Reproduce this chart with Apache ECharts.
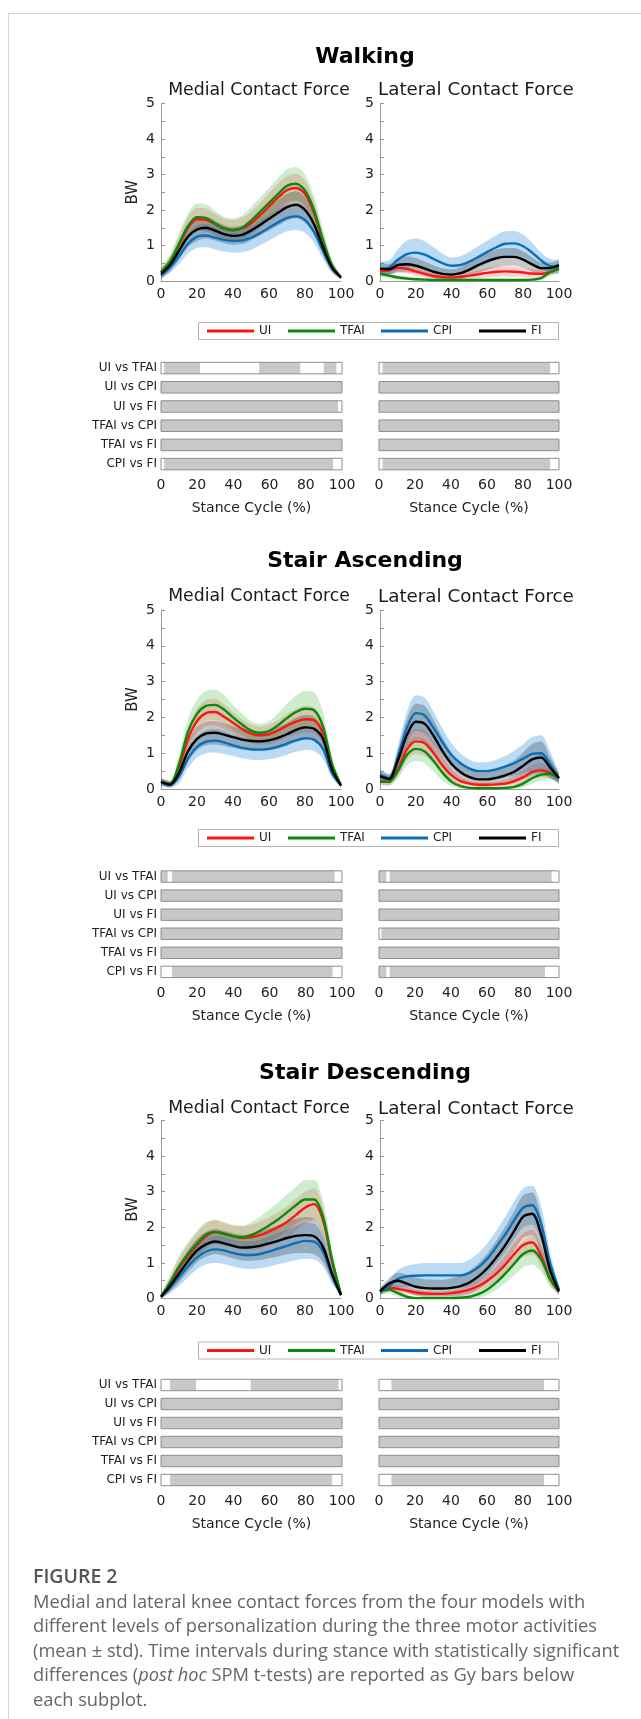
<!DOCTYPE html>
<html>
<head>
<meta charset="utf-8">
<script src="https://cdn.jsdelivr.net/npm/echarts@6/dist/echarts.min.js"></script>
<style>
  html, body { margin: 0; padding: 0; background: #ffffff; }
  #chart { width: 641px; height: 1719px; }
</style>
</head>
<body>
<div id="chart"></div>
<script>
// ---- Categories and tick labels ----
const stance = ['0','5','10','15','20','25','30','35','40','45','50','55','60','65','70','75','80','85','90','95','100'];
const models = ['UI', 'TFAI', 'CPI', 'FI'];
const comparisons = ['UI vs TFAI', 'UI vs CPI', 'UI vs FI', 'TFAI vs CPI', 'TFAI vs FI', 'CPI vs FI'];
const activities = ['Walking', 'Stair Ascending', 'Stair Descending'];
const sides = ['Medial Contact Force', 'Lateral Contact Force'];

// ---- Walking, medial compartment (BW): mean and std ----
const walkMedUI   = [0.25,0.52,1.00,1.50,1.74,1.72,1.60,1.48,1.44,1.48,1.62,1.85,2.10,2.35,2.56,2.62,2.45,1.92,1.10,0.42,0.10];
const walkMedTFAI = [0.25,0.55,1.05,1.55,1.80,1.78,1.62,1.48,1.43,1.50,1.70,1.95,2.20,2.45,2.68,2.74,2.55,2.00,1.15,0.45,0.10];
const walkMedCPI  = [0.15,0.38,0.70,1.05,1.25,1.28,1.22,1.16,1.13,1.14,1.22,1.35,1.50,1.65,1.78,1.82,1.72,1.38,0.85,0.35,0.10];
const walkMedFI   = [0.20,0.45,0.85,1.25,1.45,1.50,1.42,1.32,1.27,1.30,1.42,1.58,1.75,1.92,2.08,2.15,2.00,1.60,0.95,0.38,0.10];
const walkMedUIsd   = [0.12,0.18,0.25,0.30,0.32,0.32,0.30,0.28,0.28,0.30,0.33,0.35,0.38,0.40,0.40,0.40,0.38,0.33,0.25,0.12,0.05];
const walkMedTFAIsd = [0.15,0.20,0.30,0.35,0.38,0.38,0.35,0.33,0.33,0.35,0.38,0.40,0.42,0.45,0.47,0.47,0.45,0.40,0.30,0.15,0.05];
const walkMedCPIsd  = [0.10,0.15,0.22,0.28,0.32,0.33,0.33,0.33,0.33,0.33,0.34,0.35,0.36,0.37,0.38,0.38,0.36,0.30,0.22,0.12,0.05];
const walkMedFIsd   = [0.12,0.18,0.25,0.30,0.32,0.30,0.28,0.26,0.25,0.26,0.28,0.30,0.33,0.36,0.38,0.38,0.36,0.30,0.22,0.12,0.05];

// ---- Walking, lateral compartment ----
const walkLatUI   = [0.28,0.30,0.37,0.34,0.27,0.20,0.14,0.11,0.10,0.12,0.15,0.19,0.23,0.26,0.27,0.26,0.24,0.21,0.20,0.25,0.35];
const walkLatTFAI = [0.20,0.15,0.10,0.07,0.05,0.04,0.03,0.03,0.03,0.03,0.03,0.03,0.03,0.03,0.03,0.03,0.03,0.04,0.08,0.25,0.35];
const walkLatCPI  = [0.35,0.38,0.60,0.76,0.80,0.74,0.62,0.50,0.43,0.45,0.55,0.68,0.82,0.95,1.05,1.06,0.98,0.80,0.58,0.42,0.40];
const walkLatFI   = [0.35,0.33,0.45,0.47,0.43,0.35,0.26,0.20,0.18,0.22,0.32,0.45,0.56,0.64,0.68,0.68,0.60,0.47,0.36,0.37,0.45];
const walkLatUIsd   = [0.10,0.10,0.13,0.13,0.12,0.10,0.08,0.07,0.07,0.08,0.10,0.12,0.14,0.15,0.15,0.15,0.14,0.12,0.10,0.10,0.10];
const walkLatTFAIsd = [0.08,0.07,0.06,0.05,0.04,0.03,0.03,0.03,0.03,0.03,0.03,0.03,0.03,0.03,0.03,0.03,0.03,0.04,0.06,0.10,0.10];
const walkLatCPIsd  = [0.20,0.20,0.30,0.38,0.40,0.38,0.33,0.27,0.23,0.25,0.28,0.30,0.32,0.34,0.35,0.35,0.32,0.28,0.22,0.20,0.20];
const walkLatFIsd   = [0.15,0.15,0.20,0.22,0.22,0.20,0.18,0.16,0.15,0.17,0.20,0.22,0.24,0.25,0.25,0.25,0.23,0.20,0.16,0.15,0.15];

// ---- Stair ascending, medial ----
const ascMedUI   = [0.20,0.15,0.60,1.40,1.90,2.12,2.15,2.02,1.85,1.68,1.55,1.50,1.53,1.63,1.77,1.88,1.95,1.92,1.55,0.60,0.10];
const ascMedTFAI = [0.20,0.15,0.70,1.60,2.10,2.32,2.35,2.22,2.00,1.80,1.63,1.57,1.62,1.78,1.98,2.15,2.24,2.20,1.75,0.70,0.10];
const ascMedCPI  = [0.20,0.12,0.35,0.85,1.18,1.32,1.35,1.30,1.22,1.15,1.11,1.10,1.12,1.18,1.27,1.36,1.42,1.38,1.12,0.45,0.10];
const ascMedFI   = [0.20,0.12,0.45,1.05,1.40,1.55,1.57,1.52,1.45,1.38,1.34,1.33,1.36,1.43,1.53,1.65,1.72,1.68,1.40,0.55,0.10];
const ascMedUIsd   = [0.10,0.08,0.20,0.30,0.35,0.37,0.37,0.35,0.30,0.27,0.25,0.25,0.27,0.30,0.33,0.36,0.37,0.36,0.30,0.15,0.05];
const ascMedTFAIsd = [0.10,0.08,0.25,0.35,0.40,0.42,0.42,0.40,0.35,0.30,0.27,0.25,0.28,0.33,0.40,0.46,0.50,0.50,0.40,0.20,0.05];
const ascMedCPIsd  = [0.10,0.08,0.18,0.26,0.30,0.32,0.33,0.32,0.30,0.29,0.29,0.29,0.29,0.30,0.31,0.32,0.33,0.32,0.28,0.14,0.05];
const ascMedFIsd   = [0.10,0.08,0.18,0.28,0.32,0.33,0.33,0.32,0.30,0.28,0.27,0.27,0.28,0.30,0.32,0.34,0.35,0.34,0.30,0.15,0.05];

// ---- Stair ascending, lateral ----
const ascLatUI   = [0.22,0.20,0.55,1.10,1.33,1.28,1.00,0.65,0.38,0.22,0.15,0.12,0.12,0.13,0.15,0.22,0.33,0.48,0.52,0.45,0.30];
const ascLatTFAI = [0.20,0.20,0.50,0.95,1.12,1.05,0.78,0.45,0.20,0.08,0.03,0.02,0.02,0.02,0.03,0.06,0.15,0.30,0.40,0.42,0.30];
const ascLatCPI  = [0.40,0.30,0.90,1.70,2.12,2.05,1.70,1.30,0.95,0.72,0.57,0.50,0.50,0.55,0.63,0.72,0.85,0.98,1.00,0.70,0.30];
const ascLatFI   = [0.35,0.28,0.80,1.50,1.88,1.82,1.48,1.05,0.70,0.47,0.33,0.27,0.27,0.31,0.38,0.48,0.65,0.83,0.88,0.60,0.30];
const ascLatUIsd   = [0.10,0.10,0.20,0.30,0.35,0.35,0.30,0.25,0.18,0.12,0.08,0.07,0.07,0.08,0.10,0.13,0.17,0.20,0.20,0.15,0.10];
const ascLatTFAIsd = [0.10,0.10,0.20,0.30,0.33,0.33,0.30,0.22,0.12,0.06,0.03,0.02,0.02,0.02,0.03,0.05,0.10,0.15,0.17,0.15,0.10];
const ascLatCPIsd  = [0.15,0.12,0.30,0.45,0.50,0.50,0.45,0.38,0.32,0.27,0.25,0.25,0.25,0.27,0.30,0.35,0.40,0.47,0.50,0.35,0.15];
const ascLatFIsd   = [0.15,0.12,0.30,0.45,0.50,0.50,0.45,0.38,0.30,0.25,0.22,0.20,0.20,0.22,0.27,0.32,0.38,0.43,0.45,0.30,0.15];

// ---- Stair descending, medial ----
const descMedUI   = [0.05,0.40,0.85,1.20,1.50,1.75,1.87,1.82,1.75,1.70,1.72,1.78,1.88,2.00,2.15,2.35,2.55,2.65,2.20,1.05,0.10];
const descMedTFAI = [0.05,0.45,0.90,1.25,1.55,1.80,1.87,1.82,1.75,1.72,1.78,1.90,2.05,2.22,2.42,2.62,2.78,2.78,2.30,1.10,0.10];
const descMedCPI  = [0.05,0.30,0.60,0.90,1.15,1.32,1.38,1.35,1.28,1.23,1.22,1.25,1.32,1.40,1.48,1.56,1.62,1.60,1.32,0.65,0.10];
const descMedFI   = [0.05,0.35,0.70,1.05,1.35,1.52,1.60,1.55,1.48,1.43,1.44,1.48,1.55,1.62,1.70,1.76,1.78,1.75,1.45,0.70,0.10];
const descMedUIsd   = [0.05,0.20,0.28,0.32,0.35,0.35,0.35,0.33,0.32,0.33,0.35,0.38,0.40,0.42,0.44,0.45,0.45,0.45,0.38,0.22,0.05];
const descMedTFAIsd = [0.05,0.20,0.30,0.33,0.35,0.35,0.33,0.30,0.30,0.32,0.35,0.40,0.45,0.48,0.50,0.52,0.55,0.55,0.45,0.25,0.05];
const descMedCPIsd  = [0.05,0.15,0.25,0.30,0.33,0.36,0.38,0.38,0.38,0.38,0.39,0.40,0.42,0.44,0.46,0.48,0.50,0.50,0.42,0.22,0.05];
const descMedFIsd   = [0.05,0.15,0.25,0.30,0.33,0.35,0.35,0.35,0.35,0.36,0.38,0.40,0.42,0.44,0.46,0.48,0.50,0.50,0.42,0.22,0.05];

// ---- Stair descending, lateral ----
const descLatUI   = [0.20,0.30,0.27,0.22,0.17,0.14,0.13,0.13,0.15,0.19,0.25,0.35,0.50,0.70,0.95,1.25,1.50,1.58,1.20,0.55,0.20];
const descLatTFAI = [0.20,0.25,0.15,0.05,0.01,0.01,0.01,0.01,0.01,0.02,0.05,0.12,0.25,0.45,0.70,0.98,1.25,1.35,1.10,0.55,0.20];
const descLatCPI  = [0.20,0.35,0.55,0.62,0.64,0.65,0.65,0.65,0.65,0.65,0.72,0.88,1.12,1.45,1.80,2.20,2.55,2.62,2.10,1.00,0.25];
const descLatFI   = [0.20,0.42,0.50,0.42,0.33,0.29,0.28,0.28,0.30,0.35,0.45,0.62,0.85,1.15,1.50,1.90,2.30,2.38,1.80,0.80,0.20];
const descLatUIsd   = [0.08,0.10,0.10,0.10,0.08,0.07,0.07,0.07,0.08,0.10,0.12,0.15,0.18,0.22,0.26,0.30,0.33,0.35,0.30,0.18,0.08];
const descLatTFAIsd = [0.08,0.10,0.10,0.05,0.02,0.01,0.01,0.01,0.01,0.02,0.05,0.10,0.15,0.20,0.27,0.33,0.38,0.40,0.35,0.20,0.08];
const descLatCPIsd  = [0.10,0.15,0.25,0.30,0.33,0.35,0.35,0.35,0.35,0.35,0.37,0.40,0.43,0.46,0.50,0.53,0.55,0.55,0.50,0.30,0.10];
const descLatFIsd   = [0.10,0.15,0.22,0.25,0.25,0.25,0.25,0.25,0.27,0.30,0.33,0.37,0.42,0.47,0.52,0.56,0.60,0.60,0.50,0.30,0.10];

// ---- Significant stance intervals (%) per comparison, post hoc SPM t-tests ----
const walkMedSig = [[[1.7,21.6],[54.2,76.9],[89.9,96.9]], [[0,100]], [[0,97.8]], [[0,100]], [[0,100]], [[1.7,95]]];
const walkLatSig = [[[2,95]], [[0,100]], [[0,100]], [[0,100]], [[0,100]], [[2,95]]];
const ascMedSig  = [[[0,3.7],[6.1,95.9]], [[0,100]], [[0,100]], [[0,100]], [[0,100]], [[6.1,94.8]]];
const ascLatSig  = [[[0,4.1],[5.9,95.9]], [[0,100]], [[0,100]], [[1.3,100]], [[0,100]], [[0,4.1],[5.9,92.2]]];
const descMedSig = [[[5,19.4],[49.6,98.1]], [[0,100]], [[0,100]], [[0,100]], [[0,100]], [[5,94.4]]];
const descLatSig = [[[6.9,91.7]], [[0,100]], [[0,100]], [[0,100]], [[0,100]], [[6.9,91.7]]];

// ---- Panels in drawing order: activity x (medial, lateral) ----
const panels = [
  { mean: {UI: walkMedUI, TFAI: walkMedTFAI, CPI: walkMedCPI, FI: walkMedFI},
    sd:   {UI: walkMedUIsd, TFAI: walkMedTFAIsd, CPI: walkMedCPIsd, FI: walkMedFIsd}, sig: walkMedSig },
  { mean: {UI: walkLatUI, TFAI: walkLatTFAI, CPI: walkLatCPI, FI: walkLatFI},
    sd:   {UI: walkLatUIsd, TFAI: walkLatTFAIsd, CPI: walkLatCPIsd, FI: walkLatFIsd}, sig: walkLatSig },
  { mean: {UI: ascMedUI, TFAI: ascMedTFAI, CPI: ascMedCPI, FI: ascMedFI},
    sd:   {UI: ascMedUIsd, TFAI: ascMedTFAIsd, CPI: ascMedCPIsd, FI: ascMedFIsd}, sig: ascMedSig },
  { mean: {UI: ascLatUI, TFAI: ascLatTFAI, CPI: ascLatCPI, FI: ascLatFI},
    sd:   {UI: ascLatUIsd, TFAI: ascLatTFAIsd, CPI: ascLatCPIsd, FI: ascLatFIsd}, sig: ascLatSig },
  { mean: {UI: descMedUI, TFAI: descMedTFAI, CPI: descMedCPI, FI: descMedFI},
    sd:   {UI: descMedUIsd, TFAI: descMedTFAIsd, CPI: descMedCPIsd, FI: descMedFIsd}, sig: descMedSig },
  { mean: {UI: descLatUI, TFAI: descLatTFAI, CPI: descLatCPI, FI: descLatFI},
    sd:   {UI: descLatUIsd, TFAI: descLatTFAIsd, CPI: descLatCPIsd, FI: descLatFIsd}, sig: descLatSig }
];

// ---- Styling ----
const FONT = '"DejaVu Sans", sans-serif';
const CAPTION_FONT = '"Open Sans", sans-serif';
const lineColor = { UI: '#ff1414', TFAI: '#0b8a0b', CPI: '#0a6fb8', FI: '#000000' };
const bandColor = { UI: 'rgba(255,40,40,0.20)', TFAI: 'rgba(30,170,30,0.22)', CPI: 'rgba(60,150,220,0.35)', FI: 'rgba(0,0,0,0.22)' };
const AXIS_GREY = '#9a9a9a';

// ---- Layout (px) ----
const lineTop = [103.5, 610, 1120.5];
const lineHeight = [177.5, 179, 178];
const spmTop = [358.5, 867, 1375.5];
const spmRowGap = [19.2, 19.07, 19.0];
const legendMid = [331, 838, 1350.5];          // vertical centre of each legend box
const legendItemLeft = { UI: 207, TFAI: 288, CPI: 381, FI: 479 };
const titleY = [57, 561, 1073];
const subTitleY = [90.6, 597, 1109];

const grid = [], xAxis = [], yAxis = [], series = [], legend = [], graphic = [];

// Line plots (grid 0..5)
panels.forEach((p, i) => {
  const act = Math.floor(i / 2), lateral = i % 2 === 1;
  grid.push({ left: lateral ? 380 : 161, top: lineTop[act], width: lateral ? 179 : 180, height: lineHeight[act] });
  xAxis.push({
    type: 'category', gridIndex: i, data: stance, boundaryGap: false,
    axisLine: { show: true, onZero: false, lineStyle: { color: AXIS_GREY, width: 1 } },
    axisTick: { show: false },
    axisLabel: { interval: 3, fontSize: 14, color: '#222', margin: 6, fontFamily: FONT },
    splitLine: { show: false }
  });
  yAxis.push({
    type: 'value', gridIndex: i, min: 0, max: 5, interval: 1,
    axisLine: { show: true, lineStyle: { color: AXIS_GREY, width: 1 } },
    axisTick: { show: true, inside: true, length: 4, lineStyle: { color: AXIS_GREY } },
    minorTick: { show: true, splitNumber: 2, length: 4, lineStyle: { color: AXIS_GREY } },
    splitLine: { show: false },
    axisLabel: { fontSize: 14, color: '#222', margin: 6, fontFamily: FONT },
    name: lateral ? '' : 'BW', nameLocation: 'middle', nameGap: 20, nameRotate: 90,
    nameTextStyle: { fontSize: 15, color: '#222', fontFamily: FONT }
  });
  // std bands: invisible lower edge + stacked band thickness
  models.forEach(m => {
    const mean = p.mean[m], sd = p.sd[m];
    const key = 'band' + i + m;
    series.push({
      type: 'line', name: m + ' std', xAxisIndex: i, yAxisIndex: i, stack: key, stackStrategy: 'all',
      data: mean.map((v, k) => +(v - sd[k]).toFixed(3)), smooth: 0.3, symbol: 'none', silent: true,
      lineStyle: { width: 0, opacity: 0 }, z: 1
    });
    series.push({
      type: 'line', name: m + ' std', xAxisIndex: i, yAxisIndex: i, stack: key, stackStrategy: 'all',
      data: sd.map(v => +(2 * v).toFixed(3)), smooth: 0.3, symbol: 'none', silent: true,
      lineStyle: { width: 0, opacity: 0 }, areaStyle: { color: bandColor[m], opacity: 1 }, z: 1
    });
  });
  // mean curves
  models.forEach(m => {
    series.push({
      type: 'line', name: m, xAxisIndex: i, yAxisIndex: i, data: p.mean[m],
      smooth: 0.3, symbol: 'none', silent: true,
      itemStyle: { color: lineColor[m] }, lineStyle: { color: lineColor[m], width: 2.4 }, z: 3
    });
  });
});

// SPM significance bars (grid 6..11)
panels.forEach((p, i) => {
  const act = Math.floor(i / 2), lateral = i % 2 === 1;
  const g = 6 + i;
  grid.push({ left: lateral ? 379 : 161, top: spmTop[act], width: lateral ? 180 : 181, height: spmRowGap[act] * 6 });
  xAxis.push({
    type: 'value', gridIndex: g, min: 0, max: 100, interval: 20,
    axisLine: { show: false }, axisTick: { show: false }, splitLine: { show: false },
    axisLabel: { fontSize: 14, color: '#222', margin: 4.5, fontFamily: FONT },
    name: 'Stance Cycle (%)', nameLocation: 'middle', nameGap: 28,
    nameTextStyle: { fontSize: 14, color: '#222', fontFamily: FONT }
  });
  yAxis.push({
    type: 'category', gridIndex: g, data: comparisons, inverse: true,
    axisLine: { show: false }, axisTick: { show: false }, splitLine: { show: false },
    axisLabel: { show: !lateral, fontSize: 12, color: '#222', margin: 4, fontFamily: FONT }
  });
  const filled = [];
  p.sig.forEach((row, r) => row.forEach(iv => filled.push([r, iv[0], iv[1]])));
  const barRect = (params, api, style) => {
    const a = api.coord([api.value(1), api.value(0)]);
    const b = api.coord([api.value(2), api.value(0)]);
    const h = api.size([0, 1])[1] * 0.6;
    return { type: 'rect', shape: { x: a[0], y: a[1] - h / 2, width: b[0] - a[0], height: h }, style: style };
  };
  series.push({
    type: 'custom', name: 'significant', xAxisIndex: g, yAxisIndex: g, silent: true, z: 2,
    encode: { x: [1, 2], y: 0 }, data: filled,
    renderItem: (params, api) => barRect(params, api, { fill: '#c8c8c8' })
  });
  series.push({
    type: 'custom', name: 'frame', xAxisIndex: g, yAxisIndex: g, silent: true, z: 3,
    encode: { x: [1, 2], y: 0 }, data: comparisons.map((c, r) => [r, 0, 100]),
    renderItem: (params, api) => barRect(params, api, { fill: 'none', stroke: '#8e8e8e', lineWidth: 1 })
  });
});

// Legend entries, one row per activity, each entry placed on its own
legendMid.forEach(mid => {
  models.forEach(m => {
    legend.push({
      left: legendItemLeft[m], top: mid - 7, data: [m], selectedMode: false,
      icon: 'rect', itemWidth: 47, itemHeight: 3, itemGap: 0, padding: 0,
      textStyle: { fontSize: 12, color: '#222', fontFamily: FONT, lineHeight: 14 }
    });
  });
  // legend frame
  graphic.push({
    type: 'rect', silent: true, z: -5,
    shape: { x: 198.5, y: mid - 8.5, width: 360, height: 17 },
    style: { fill: '#fff', stroke: '#b4b4b4', lineWidth: 1 }
  });
});

// Page frame
graphic.push({
  type: 'rect', silent: true, z: -10,
  shape: { x: 8.5, y: 13.5, width: 700, height: 1800 },
  style: { fill: 'none', stroke: '#d4d4d4', lineWidth: 1 }
});
// Activity titles and subplot titles
activities.forEach((a, k) => {
  graphic.push({ type: 'text', silent: true, x: 365, y: titleY[k],
    style: { text: a, fontSize: 22, fontWeight: 'bold', fontFamily: FONT, fill: '#000', align: 'center', verticalAlign: 'middle' } });
  graphic.push({ type: 'text', silent: true, x: 259, y: subTitleY[k],
    style: { text: sides[0], fontSize: 17.3, fontFamily: FONT, fill: '#1a1a1a', align: 'center', verticalAlign: 'middle' } });
  graphic.push({ type: 'text', silent: true, x: 378, y: subTitleY[k],
    style: { text: sides[1], fontSize: 18.3, fontFamily: FONT, fill: '#1a1a1a', align: 'left', verticalAlign: 'middle' } });
});
// Figure caption
graphic.push({ type: 'text', silent: true, x: 33, y: 1577,
  style: { text: 'FIGURE 2', fontSize: 19.5, fontFamily: CAPTION_FONT, fontWeight: 600, fill: '#555', align: 'left', verticalAlign: 'middle' } });
graphic.push({ type: 'text', silent: true, x: 33, y: 1590.5,
  style: {
    text: 'Medial and lateral knee contact forces from the four models with\n' +
          'different levels of personalization during the three motor activities\n' +
          '(mean \u00b1 std). Time intervals during stance with statistically significant\n' +
          'differences ({it|post hoc} SPM t-tests) are reported as Gy bars below\n' +
          'each subplot.',
    fontSize: 18.3, fontFamily: CAPTION_FONT, fill: '#666', lineHeight: 24.4,
    align: 'left', verticalAlign: 'top',
    rich: { it: { fontStyle: 'italic', fontSize: 18.3, fontFamily: CAPTION_FONT, fill: '#666', lineHeight: 24.4 } }
  } });

const chart = echarts.init(document.getElementById('chart'), null, { renderer: 'canvas', width: 641, height: 1719 });
chart.setOption({
  animation: false,
  backgroundColor: '#ffffff',
  textStyle: { fontFamily: FONT },
  grid, xAxis, yAxis, series, legend, graphic
});
</script>
</body>
</html>
